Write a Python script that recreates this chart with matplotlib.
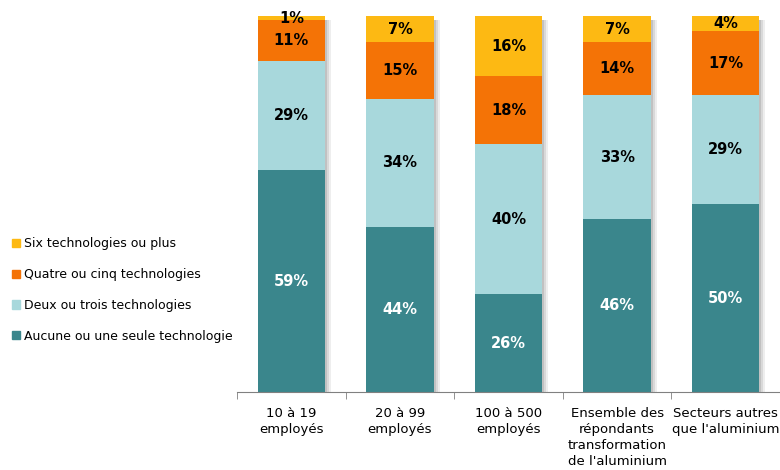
import numpy as np
import matplotlib.pyplot as plt
from matplotlib.patches import Patch

plt.rcParams['font.family'] = ['DejaVu Sans']

categories = ['10 à 19\nemployés', '20 à 99\nemployés', '100 à 500\nemployés',
              'Ensemble des\nrépondants\ntransformation\nde l\'aluminium',
              'Secteurs autres\nque l\'aluminium']
series = ['Aucune ou une seule technologie', 'Deux ou trois technologies',
          'Quatre ou cinq technologies', 'Six technologies ou plus']
aucune = [59, 44, 26, 46, 50]
deux_trois = [29, 34, 40, 33, 29]
quatre_cinq = [11, 15, 18, 14, 17]
six_plus = [1, 7, 16, 7, 4]

colors = ['#3a868c', '#a8d8dc', '#f47306', '#fdb913']
text_colors = ['white', 'black', 'black', 'black']

fig = plt.figure(figsize=(7.8, 4.7), dpi=100)
ax = fig.add_axes([0.304, 0.166, 0.696, 0.802])

x = np.arange(len(categories))
width = 0.62
values = [aucune, deux_trois, quatre_cinq, six_plus]
totals = np.sum(values, axis=0)

# soft drop shadow on the right of each bar
px = 1 / 110
for k, a in [(6, 0.12), (4, 0.18), (2, 0.25)]:
    ax.bar(x + k * px, totals - 1, width, bottom=0, color='#7a7a7a',
           alpha=a, linewidth=0, zorder=1)

bottom = np.zeros(len(categories))
for vals, col, tcol in zip(values, colors, text_colors):
    vals = np.array(vals)
    ax.bar(x, vals, width, bottom=bottom, color=col, linewidth=0, zorder=2)
    for xi, b, v in zip(x, bottom, vals):
        ax.text(xi, b + v / 2, f'{v}%', ha='center', va='center',
                fontsize=10.5, fontweight='bold', color=tcol, zorder=3)
    bottom += vals

ax.set_xlim(-0.5, 4.436)
ax.set_ylim(0, 100.3)
for s in ['top', 'right', 'left']:
    ax.spines[s].set_visible(False)
ax.spines['bottom'].set_color('#808080')
ax.set_yticks([])
ax.set_xticks(x)
ax.set_xticklabels(categories, fontsize=9.5, linespacing=1.3)
ax.tick_params(axis='x', which='major', length=0, pad=11)
ax.set_xticks(np.arange(-0.5, 5, 1), minor=True)
ax.tick_params(axis='x', which='minor', length=5, direction='out', color='#808080')

handles = [Patch(color=c, label=s) for c, s in zip(colors, series)]
fig.legend(handles[::-1], series[::-1], loc='center left',
           bbox_to_anchor=(0.015, 0.383), frameon=False, fontsize=9,
           handlelength=0.65, handleheight=0.65, handletextpad=0.3,
           labelspacing=1.42, borderaxespad=0, borderpad=0)

fig.savefig('out.png', dpi=100)
